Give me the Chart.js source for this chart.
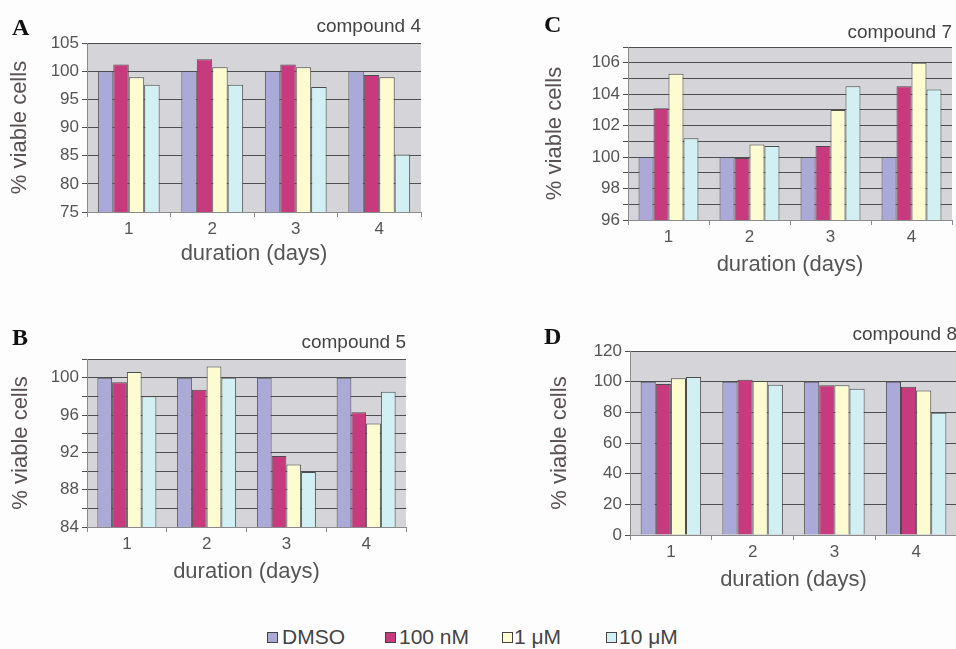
<!DOCTYPE html>
<html>
<head>
<meta charset="utf-8">
<script src="https://cdn.jsdelivr.net/npm/chart.js@4/dist/chart.umd.min.js"></script>
<style>
  html, body { margin:0; padding:0; background:#fdfdfd; overflow:hidden; width:956px; height:649px; }
  .wrap { position:absolute; }
  .letter { position:absolute; font-family:"Liberation Serif","DejaVu Serif",serif; font-weight:bold; font-size:24px; color:#111; line-height:1; }
  .leg { position:absolute; top:625px; font-family:"Liberation Sans",Arial,sans-serif; font-size:21px; color:#444; line-height:24px; white-space:nowrap; }
  .box { position:absolute; width:9px; height:9px; border:1px solid #444; }
</style>
</head>
<body>
<script>
// ---- data ----
const days = ['1', '2', '3', '4'];
const seriesNames = ['DMSO', '100 nM', '1 μM', '10 μM'];
const seriesColors = ['#aaa9d8', '#c83a7e', '#fdfbd0', '#d2eff3'];

// compound 4 (panel A)
const c4_dmso  = [100, 100, 100, 100];
const c4_100nM = [101.2, 102.1, 101.2, 99.3];
const c4_1uM   = [98.9, 100.7, 100.7, 98.9];
const c4_10uM  = [97.6, 97.6, 97.2, 85.2];

// compound 5 (panel B)
const c5_dmso  = [100, 100, 100, 100];
const c5_100nM = [99.5, 98.7, 91.6, 96.3];
const c5_1uM   = [100.6, 101.2, 90.7, 95.1];
const c5_10uM  = [98.0, 100.0, 89.9, 98.5];

// compound 7 (panel C)
const c7_dmso  = [100, 100, 100, 100];
const c7_100nM = [103.1, 99.95, 100.7, 104.5];
const c7_1uM   = [105.3, 100.8, 103.0, 106.0];
const c7_10uM  = [101.2, 100.7, 104.5, 104.3];

// compound 8 (panel D)
const c8_dmso  = [100, 100, 100, 100];
const c8_100nM = [98.5, 101.3, 97.6, 96.7];
const c8_1uM   = [102.2, 100.4, 97.6, 94.3];
const c8_10uM  = [103.0, 98.0, 95.4, 79.8];

const FONT = '"Liberation Sans", Arial, sans-serif';
const TXT = '#555';
const AXT = 22, AXT_H = AXT * 1.2 / 2;
const TTL = 19, TTL_H = TTL * 1.2;

const bgPlugin = {
  id: 'plotBg',
  beforeDraw(chart) {
    const a = chart.chartArea, ctx = chart.ctx;
    ctx.save();
    ctx.fillStyle = '#d5d5d9';
    ctx.fillRect(a.left, a.top, a.right - a.left, a.bottom - a.top);
    ctx.restore();
  }
};

function makePanel(p) {
  const div = document.createElement('div');
  div.className = 'wrap';
  div.style.left = p.x + 'px'; div.style.top = p.y + 'px';
  div.style.width = p.w + 'px'; div.style.height = p.h + 'px';
  const cv = document.createElement('canvas');
  div.appendChild(cv);
  document.body.appendChild(div);

  const L = p.area.L - p.x, R = p.area.R - p.x, T = p.area.T - p.y, B = p.area.B - p.y;
  const pl = (p.yTitleX - p.x) - AXT_H;
  const xBottom = (p.xTitleY - p.y) + AXT_H;
  const pb = p.h - xBottom;
  const tCenter = p.titleY - p.y;
  const padTop = tCenter - TTL_H / 2;
  const padBot = T - padTop - TTL_H;

  new Chart(cv, {
    type: 'bar',
    data: {
      labels: days,
      datasets: p.series.map((vals, i) => ({
        label: seriesNames[i],
        data: vals,
        backgroundColor: seriesColors[i],
        borderColor: '#4d4d4d',
        borderWidth: 1,
        barPercentage: 1.0,
        categoryPercentage: 0.74
      }))
    },
    options: {
      responsive: true,
      maintainAspectRatio: false,
      animation: false,
      devicePixelRatio: 1,
      layout: { padding: { left: pl, right: p.w - R, top: 0, bottom: pb } },
      plugins: {
        legend: { display: false },
        tooltip: { enabled: false },
        title: {
          display: true, text: p.title, align: 'end', color: '#444',
          font: { family: FONT, size: TTL, weight: 'normal', lineHeight: 1.2 },
          padding: { top: padTop, bottom: padBot }
        }
      },
      scales: {
        x: {
          grid: { display: true, offset: true, drawOnChartArea: false, drawTicks: true, tickLength: 5, color: '#8a8a8a' },
          border: { display: true, color: '#8a8a8a' },
          ticks: { color: TXT, font: { family: FONT, size: 17 }, padding: 2, maxRotation: 0 },
          title: { display: true, text: 'duration (days)', color: TXT, font: { family: FONT, size: AXT, lineHeight: 1.2 }, padding: 0 },
          afterFit(s) { s.height = xBottom - B; }
        },
        y: {
          min: p.yMin, max: p.yMax,
          grid: { color: '#4f4f4f', lineWidth: 1, drawTicks: true, tickLength: 5 },
          border: { display: true, color: '#8a8a8a' },
          ticks: {
            stepSize: p.step, color: TXT, font: { family: FONT, size: 17 }, padding: 3,
            autoSkip: false,
            callback: (v) => p.labelIf(v) ? String(v) : ''
          },
          title: { display: true, text: '% viable cells', color: '#5a5252', font: { family: FONT, size: AXT, lineHeight: 1.2 }, padding: 0 },
          afterFit(s) { s.width = L - pl; }
        }
      }
    },
    plugins: [bgPlugin]
  });
}

makePanel({
  x: 0, y: 0, w: 440, h: 280,
  area: { L: 87, R: 421, T: 43, B: 212 },
  yTitleX: 20, xTitleY: 254, titleY: 27,
  title: 'compound 4',
  yMin: 75, yMax: 105, step: 5, labelIf: v => true,
  series: [c4_dmso, c4_100nM, c4_1uM, c4_10uM]
});
makePanel({
  x: 480, y: 0, w: 476, h: 290,
  area: { L: 628, R: 952, T: 47, B: 220 },
  yTitleX: 555, xTitleY: 265, titleY: 33,
  title: 'compound 7',
  yMin: 96, yMax: 107, step: 1, labelIf: v => v % 2 === 0 && v <= 106,
  series: [c7_dmso, c7_100nM, c7_1uM, c7_10uM]
});
makePanel({
  x: 0, y: 300, w: 440, h: 300,
  area: { L: 87, R: 406, T: 359, B: 527 },
  yTitleX: 21, xTitleY: 572, titleY: 343,
  title: 'compound 5',
  yMin: 84, yMax: 102, step: 2, labelIf: v => (v - 84) % 4 === 0 && v <= 100,
  series: [c5_dmso, c5_100nM, c5_1uM, c5_10uM]
});
makePanel({
  x: 480, y: 300, w: 480, h: 300,
  area: { L: 630, R: 957, T: 351, B: 535 },
  yTitleX: 560, xTitleY: 580, titleY: 335,
  title: 'compound 8',
  yMin: 0, yMax: 120, step: 20, labelIf: v => true,
  series: [c8_dmso, c8_100nM, c8_1uM, c8_10uM]
});

// panel letters
[['A', 12, 15], ['C', 544, 12], ['B', 12, 325], ['D', 544, 324]].forEach(([t, x, y]) => {
  const d = document.createElement('div');
  d.className = 'letter'; d.textContent = t;
  d.style.left = x + 'px'; d.style.top = y + 'px';
  document.body.appendChild(d);
});

// shared legend
const legPos = [[267, 282], [385, 399], [502, 514], [606, 619]];
seriesNames.forEach((name, i) => {
  const b = document.createElement('div');
  b.className = 'box';
  b.style.left = legPos[i][0] + 'px'; b.style.top = '632px';
  b.style.background = seriesColors[i];
  document.body.appendChild(b);
  const s = document.createElement('div');
  s.className = 'leg'; s.textContent = name;
  s.style.left = legPos[i][1] + 'px';
  document.body.appendChild(s);
});
</script>
</body>
</html>
